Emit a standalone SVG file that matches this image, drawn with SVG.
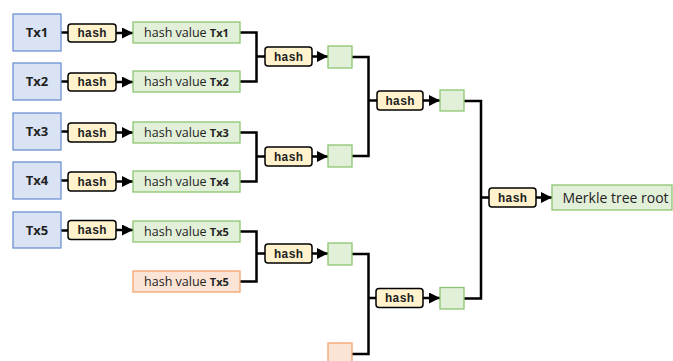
<svg xmlns="http://www.w3.org/2000/svg" width="673" height="361" viewBox="0 0 673 361">
<defs>
<marker id="arr" markerUnits="userSpaceOnUse" markerWidth="12" markerHeight="11" refX="11" refY="5.5" orient="auto">
<path d="M0,0 L11,5.5 L0,11 z" fill="#000"/>
</marker>
<style>
.tx{fill:#dae3f3;stroke:#6d93d3;stroke-width:1.3}
.g{fill:#e2efd9;stroke:#8cc56f;stroke-width:1.3}
.o{fill:#fbe4d6;stroke:#f2a46e;stroke-width:1.3}
.h{fill:#fff2cc;stroke:#000;stroke-width:1.5}
.txt{font-family:"Open Sans",sans-serif;fill:#222}
.big{font-size:13px;font-weight:bold}
.hv{font-size:12.5px}
.hv tspan{font-size:11px;font-weight:bold}
.mono{font-family:"Liberation Mono",monospace;font-size:12px;font-weight:bold;fill:#222}
.c{fill:none;stroke:#000;stroke-width:2.5}
.a{fill:none;stroke:#000;stroke-width:2.5;marker-end:url(#arr)}
</style>
</defs>
<rect width="673" height="361" fill="#fff"/>
<g id="connectors">
<path class="c" d="M61,32.5H68M61,81.5H68M61,131.5H68M61,180.5H68M61,230.5H68"/>
<path class="a" d="M116,33H133"/>
<path class="a" d="M116,82H133"/>
<path class="a" d="M116,132.5H133"/>
<path class="a" d="M116,181.5H133"/>
<path class="a" d="M116,230H133"/>
<path class="c" d="M240,32.5H256.5V81.5H240M256.5,56.5H265"/>
<path class="c" d="M240,132.5H256.5V181.5H240M256.5,156.5H265"/>
<path class="c" d="M240,231.5H256.5V281.5H240M256.5,253.5H265"/>
<path class="a" d="M312,56.5H328"/>
<path class="a" d="M312,156.5H328"/>
<path class="a" d="M312,253.5H328"/>
<path class="c" d="M352,57H368.5V156H352M368.5,100.5H377"/>
<path class="c" d="M352,254H368.5V354H352M368.5,298H376"/>
<path class="a" d="M423,100.5H440"/>
<path class="a" d="M423,298H440"/>
<path class="c" d="M464,101H481V298.5H464M481,197.5H489"/>
<path class="a" d="M536,197.5H552"/>
</g>
<g id="tx1"><rect class="tx" x="13" y="14" width="48" height="37"/><text class="txt big" x="37" y="37" text-anchor="middle">Tx1</text></g>
<g id="tx2"><rect class="tx" x="13" y="63" width="48" height="37"/><text class="txt big" x="37" y="86" text-anchor="middle">Tx2</text></g>
<g id="tx3"><rect class="tx" x="13" y="113" width="48" height="37"/><text class="txt big" x="37" y="136" text-anchor="middle">Tx3</text></g>
<g id="tx4"><rect class="tx" x="13" y="162" width="48" height="37"/><text class="txt big" x="37" y="185" text-anchor="middle">Tx4</text></g>
<g id="tx5"><rect class="tx" x="13" y="212" width="48" height="36"/><text class="txt big" x="37" y="235" text-anchor="middle">Tx5</text></g>
<g id="hash1"><rect class="h" x="68" y="24" width="48" height="18" rx="3"/><text class="mono" x="92" y="37" text-anchor="middle">hash</text></g>
<g id="hash2"><rect class="h" x="68" y="73" width="48" height="18" rx="3"/><text class="mono" x="92" y="86" text-anchor="middle">hash</text></g>
<g id="hash3"><rect class="h" x="68" y="123" width="48" height="19" rx="3"/><text class="mono" x="92" y="136.5" text-anchor="middle">hash</text></g>
<g id="hash4"><rect class="h" x="68" y="172" width="48" height="19" rx="3"/><text class="mono" x="92" y="185.5" text-anchor="middle">hash</text></g>
<g id="hash5"><rect class="h" x="68" y="220.5" width="48" height="19" rx="3"/><text class="mono" x="92" y="234" text-anchor="middle">hash</text></g>
<g id="hv1"><rect class="g" x="133" y="22" width="107" height="21"/><text class="txt hv" x="186.5" y="37" text-anchor="middle">hash value <tspan>Tx1</tspan></text></g>
<g id="hv2"><rect class="g" x="133" y="71" width="107" height="21"/><text class="txt hv" x="186.5" y="86" text-anchor="middle">hash value <tspan>Tx2</tspan></text></g>
<g id="hv3"><rect class="g" x="133" y="122" width="107" height="21"/><text class="txt hv" x="186.5" y="137" text-anchor="middle">hash value <tspan>Tx3</tspan></text></g>
<g id="hv4"><rect class="g" x="133" y="171" width="107" height="21"/><text class="txt hv" x="186.5" y="186" text-anchor="middle">hash value <tspan>Tx4</tspan></text></g>
<g id="hv5"><rect class="g" x="133" y="221" width="107" height="21"/><text class="txt hv" x="186.5" y="236" text-anchor="middle">hash value <tspan>Tx5</tspan></text></g>
<g id="hv5dup"><rect class="o" x="133" y="271" width="107" height="21"/><text class="txt hv" x="186.5" y="286" text-anchor="middle">hash value <tspan>Tx5</tspan></text></g>
<g id="hashL2a"><rect class="h" x="265" y="47" width="47" height="19" rx="3"/><text class="mono" x="288.5" y="60.5" text-anchor="middle">hash</text></g>
<g id="hashL2b"><rect class="h" x="265" y="147" width="47" height="19" rx="3"/><text class="mono" x="288.5" y="160.5" text-anchor="middle">hash</text></g>
<g id="hashL2c"><rect class="h" x="265" y="244" width="47" height="19" rx="3"/><text class="mono" x="288.5" y="257.5" text-anchor="middle">hash</text></g>
<g id="n12"><rect class="g" x="328" y="46" width="24" height="22"/></g>
<g id="n34"><rect class="g" x="328" y="145" width="24" height="22"/></g>
<g id="n55"><rect class="g" x="328" y="243" width="24" height="22"/></g>
<g id="n55dup"><rect class="o" x="328" y="343" width="24" height="22"/></g>
<g id="hashL3a"><rect class="h" x="377" y="91" width="46" height="19" rx="3"/><text class="mono" x="400" y="104.5" text-anchor="middle">hash</text></g>
<g id="hashL3b"><rect class="h" x="376" y="288.5" width="47" height="19" rx="3"/><text class="mono" x="399.5" y="302" text-anchor="middle">hash</text></g>
<g id="n1234"><rect class="g" x="440" y="90" width="24" height="21"/></g>
<g id="n5555"><rect class="g" x="440" y="287.5" width="24" height="21.5"/></g>
<g id="hashRoot"><rect class="h" x="489" y="188" width="47" height="19" rx="3"/><text class="mono" x="512.5" y="201.5" text-anchor="middle">hash</text></g>
<g id="root"><rect class="g" x="552" y="185" width="120" height="25"/><text class="txt" font-size="14" x="615.5" y="202.5" text-anchor="middle">Merkle tree root</text></g>
</svg>
